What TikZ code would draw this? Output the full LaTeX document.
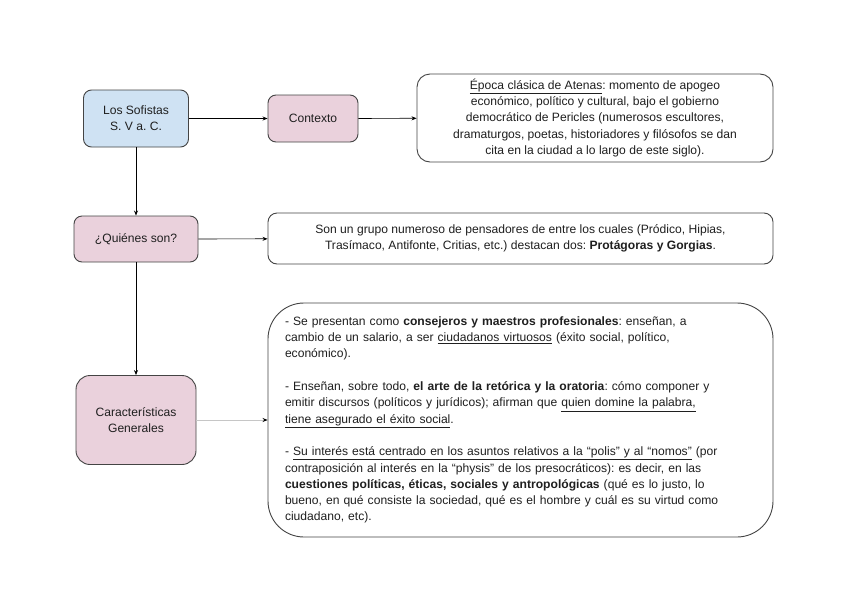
\documentclass[tikz,border=0pt]{standalone}
\usepackage{fontspec}
\setmainfont{Liberation Sans}
\frenchspacing
\usetikzlibrary{arrows.meta}
\definecolor{boxblue}{HTML}{CFE2F3}
\definecolor{boxpink}{HTML}{EAD1DC}
\definecolor{edge}{HTML}{444444}
\definecolor{txt}{HTML}{1F1F1F}
\tikzset{
  base/.style={draw=edge, line width=0.9pt, text=txt, font=\fontsize{12.1}{16.3}\selectfont, inner sep=0pt, align=center},
  smallbox/.style={base, rounded corners=8pt},
  infobox/.style={base, fill=white},
  conn/.style={line width=0.7pt, -{Stealth[length=5pt,width=4pt]}},
  lightconn/.style={line width=0.7pt, draw=gray!45, -{Stealth[length=5pt,width=4pt,color=black]}}
}
\begin{document}
\begin{tikzpicture}[x=1pt,y=-1pt]
\useasboundingbox[fill=white] (0,0) rectangle (848,600);

\node[smallbox, fill=boxblue, minimum width=105pt, minimum height=57pt] (sof) at (136,118.5) {Los Sofistas\\S. V a. C.};
\node[smallbox, fill=boxpink, minimum width=90pt, minimum height=47pt] (ctx) at (313,118.5) {Contexto};
\node[infobox, rounded corners=13pt, minimum width=356pt, minimum height=88pt] (ctxt) at (595,118) {\underline{Época clásica de Atenas}: momento de apogeo\\económico, político y cultural, bajo el gobierno\\democrático de Pericles (numerosos escultores,\\dramaturgos, poetas, historiadores y filósofos se dan\\cita en la ciudad a lo largo de este siglo).};

\node[smallbox, fill=boxpink, minimum width=124pt, minimum height=46pt] (qui) at (136,239) {¿Quiénes son?};
\node[infobox, rounded corners=9pt, minimum width=505pt, minimum height=51pt] (son) at (520.5,238.5) {Son un grupo numeroso de pensadores de entre los cuales (Pródico, Hipias,\\Trasímaco, Antifonte, Critias, etc.) destacan dos: \textbf{Protágoras y Gorgias}.};

\node[smallbox, rounded corners=14pt, fill=boxpink, minimum width=120pt, minimum height=89pt] (car) at (136,420) {Características\\Generales};
\node[infobox, rounded corners=36pt, minimum width=505pt, minimum height=234pt, text width=471pt, align=left] (big) at (520.5,420) {%
- Se presentan como \textbf{consejeros y maestros profesionales}: enseñan, a\\
cambio de un salario, a ser \underline{ciudadanos virtuosos} (éxito social, político,\\
económico).\\[16.3pt]
- Enseñan, sobre todo, \textbf{el arte de la retórica y la oratoria}: cómo componer y\\
emitir discursos (políticos y jurídicos); afirman que \underline{quien domine la palabra,}\\
\underline{tiene asegurado el éxito social}.\\[16.3pt]
- \underline{Su interés está centrado en los asuntos relativos a la “polis” y al “nomos”} (por\\
contraposición al interés en la “physis” de los presocráticos): es decir, en las\\
\textbf{cuestiones políticas, éticas, sociales y antropológicas} (qué es lo justo, lo\\
bueno, en qué consiste la sociedad, qué es el hombre y cuál es su virtud como\\
ciudadano, etc).};

\draw[conn] (sof) -- (ctx);
\draw[conn] (ctx) -- (ctxt);
\draw[conn] (sof) -- (qui);
\draw[conn] (qui) -- (son);
\draw[conn] (qui) -- (car);
\draw[lightconn] (car) -- (big);
\end{tikzpicture}
\end{document}
